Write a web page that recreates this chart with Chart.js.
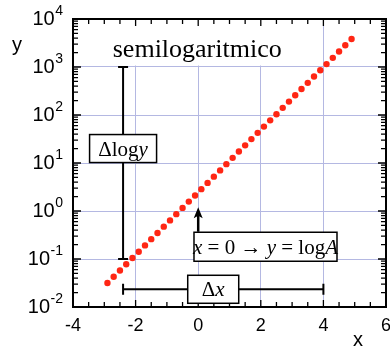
<!DOCTYPE html>
<html lang="en">
<head>
    <meta charset="UTF-8">
    <title>semilogaritmico</title>
    <script src="https://cdn.jsdelivr.net/npm/chart.js"></script>
    <style>
        body { margin: 0; background: #fff; }
        canvas { display: block; }
    </style>
</head>
<body>
    <canvas id="semiLogChart" width="390" height="349"></canvas>

    <script>
        // dots
        const xValues = [-2.9, -2.7, -2.5, -2.3, -2.1, -1.9, -1.7, -1.5, -1.3, -1.1,
                         -0.9, -0.7, -0.5, -0.3, -0.1, 0.1, 0.3, 0.5, 0.7, 0.9,
                         1.1, 1.3, 1.5, 1.7, 1.9, 2.1, 2.3, 2.5, 2.7, 2.9,
                         3.1, 3.3, 3.5, 3.7, 3.9, 4.1, 4.3, 4.5, 4.7, 4.9];
        const yValues = [0.0317, 0.0428, 0.0578, 0.078, 0.105, 0.142, 0.192, 0.259, 0.349, 0.472,
                         0.637, 0.86, 1.16, 1.57, 2.11, 2.85, 3.85, 5.2, 7.02, 9.47,
                         12.8, 17.3, 23.3, 31.5, 42.5, 57.3, 77.4, 104, 141, 190,
                         257, 347, 468, 632, 853, 1150, 1550, 2100, 2830, 3820];
        const yTickExponents = [-2, -1, 0, 1, 2, 3, 4];
        const xTickLabels = [-4, -2, 0, 2, 4, 6];

        const gridColor = '#b4b8e2';
        const sans = '"Liberation Sans", Arial, sans-serif';
        const serif = '"Liberation Serif", "Times New Roman", serif';

        // draws a row of text pieces, some italic, centred on cx
        function drawRich(ctx, parts, cx, baseY, size) {
            let total = 0;
            parts.forEach(p => {
                ctx.font = (p.it ? 'italic ' : '') + size + 'px ' + serif;
                p.w = ctx.measureText(p.t).width;
                total += p.w;
            });
            let x = cx - total / 2;
            ctx.textAlign = 'left';
            ctx.textBaseline = 'alphabetic';
            parts.forEach(p => {
                ctx.font = (p.it ? 'italic ' : '') + size + 'px ' + serif;
                ctx.fillText(p.t, x, baseY);
                x += p.w;
            });
        }

        function boxAt(ctx, cx, cy, w, h) {
            ctx.fillStyle = '#fff';
            ctx.fillRect(cx - w / 2, cy - h / 2, w, h);
            ctx.strokeStyle = '#000';
            ctx.lineWidth = 1.5;
            ctx.strokeRect(cx - w / 2, cy - h / 2, w, h);
            ctx.fillStyle = '#000';
        }

        const decorPlugin = {
            id: 'decor',
            beforeDatasetsDraw(chart) {
                const ctx = chart.ctx;
                const xs = chart.scales.x, ys = chart.scales.y;
                const a = chart.chartArea;
                // white patch behind the title
                ctx.save();
                ctx.fillStyle = '#fff';
                ctx.fillRect(a.left, a.top, xs.getPixelForValue(3.2) - a.left,
                             ys.getPixelForValue(1000) - 1.5 - a.top);
                ctx.restore();
            },
            afterDatasetsDraw(chart) {
                const ctx = chart.ctx;
                const xs = chart.scales.x, ys = chart.scales.y;
                const a = chart.chartArea;
                ctx.save();

                // inward ticks on all four sides
                ctx.strokeStyle = '#000';
                ctx.lineWidth = 1.3;
                ctx.beginPath();
                for (let v = -4; v <= 6; v += 0.5) {
                    const px = xs.getPixelForValue(v);
                    const len = Number.isInteger(v / 2) ? 7 : 5;
                    ctx.moveTo(px, a.bottom); ctx.lineTo(px, a.bottom - len);
                    ctx.moveTo(px, a.top); ctx.lineTo(px, a.top + len);
                }
                for (let d = -2; d <= 3; d++) {
                    for (let m = 1; m <= 9; m++) {
                        const py = ys.getPixelForValue(m * Math.pow(10, d));
                        const len = m === 1 ? 8 : 5;
                        ctx.moveTo(a.left, py); ctx.lineTo(a.left + len, py);
                        ctx.moveTo(a.right, py); ctx.lineTo(a.right - len, py);
                    }
                }
                ctx.stroke();

                // frame
                ctx.lineWidth = 2;
                ctx.strokeRect(a.left, a.top, a.right - a.left, a.bottom - a.top);

                // y tick labels 10^n
                ctx.fillStyle = '#000';
                ctx.textAlign = 'right';
                ctx.textBaseline = 'alphabetic';
                yTickExponents.forEach(e => {
                    const py = ys.getPixelForValue(Math.pow(10, e));
                    ctx.font = '14px ' + sans;
                    const ew = ctx.measureText(String(e)).width;
                    ctx.fillText(String(e), 63, py - 4);
                    ctx.font = '20px ' + sans;
                    ctx.fillText('10', 63 - ew - 0.5, py + 5.5);
                });

                // x tick labels
                ctx.font = '18px ' + sans;
                ctx.textAlign = 'center';
                xTickLabels.forEach(v => {
                    ctx.fillText(String(v), xs.getPixelForValue(v), 331);
                });

                // axis titles
                ctx.font = '20px ' + sans;
                ctx.fillText('y', 17, 51);
                ctx.fillText('x', 358, 346);

                // title
                ctx.font = '26px ' + serif;
                ctx.textAlign = 'left';
                ctx.fillText('semilogaritmico', xs.getPixelForValue(-2.73), ys.getPixelForValue(1650));

                // delta log y bar
                const bx = xs.getPixelForValue(-2.4);
                const yTop = ys.getPixelForValue(1000), yBot = ys.getPixelForValue(0.1);
                ctx.lineWidth = 2;
                ctx.beginPath();
                ctx.moveTo(bx, yTop); ctx.lineTo(bx, yBot);
                ctx.moveTo(bx - 5, yTop); ctx.lineTo(bx + 5, yTop);
                ctx.moveTo(bx - 5, yBot); ctx.lineTo(bx + 5, yBot);
                ctx.stroke();
                const lyC = ys.getPixelForValue(20);
                boxAt(ctx, bx, lyC, 67, 28);
                drawRich(ctx, [{ t: '\u0394log' }, { t: 'y', it: true }], bx, lyC + 7, 21);

                // delta x bar
                const by = ys.getPixelForValue(0.0234);
                const xL = xs.getPixelForValue(-2.4), xR = xs.getPixelForValue(4);
                ctx.lineWidth = 2;
                ctx.beginPath();
                ctx.moveTo(xL, by); ctx.lineTo(xR, by);
                ctx.moveTo(xL, by - 5.5); ctx.lineTo(xL, by + 5.5);
                ctx.moveTo(xR, by - 5.5); ctx.lineTo(xR, by + 5.5);
                ctx.stroke();
                const dxC = xs.getPixelForValue(0.48);
                boxAt(ctx, dxC, by, 51, 28);
                drawRich(ctx, [{ t: '\u0394' }, { t: 'x', it: true }], dxC, by + 7, 21);

                // arrow at x = 0
                const ax = xs.getPixelForValue(0);
                const tipY = ys.getPixelForValue(1.2);
                const baseY = ys.getPixelForValue(0.37);
                ctx.lineWidth = 2.5;
                ctx.beginPath();
                ctx.moveTo(ax, baseY); ctx.lineTo(ax, tipY + 8);
                ctx.stroke();
                ctx.beginPath();
                ctx.moveTo(ax, tipY);
                ctx.lineTo(ax - 4.5, tipY + 11);
                ctx.lineTo(ax, tipY + 8.5);
                ctx.lineTo(ax + 4.5, tipY + 11);
                ctx.closePath();
                ctx.fill();

                // x = 0 -> y = logA box
                const bcx = xs.getPixelForValue(2.15), bcy = ys.getPixelForValue(0.18);
                boxAt(ctx, bcx, bcy, 143, 29);
                drawRich(ctx, [
                    { t: 'x', it: true }, { t: ' = 0 \u2192 ' },
                    { t: 'y', it: true }, { t: ' = log' }, { t: 'A', it: true }
                ], bcx, bcy + 7, 21);

                ctx.restore();
            }
        };

        const ctx = document.getElementById('semiLogChart').getContext('2d');
        new Chart(ctx, {
            type: 'scatter',
            data: {
                datasets: [{
                    data: xValues.map((x, i) => ({ x: x, y: yValues[i] })),
                    backgroundColor: 'rgb(255, 38, 20)',
                    borderWidth: 0,
                    pointRadius: 3.2
                }]
            },
            options: {
                responsive: false,
                animation: false,
                devicePixelRatio: 1,
                layout: { padding: { left: 73, right: 4, top: 19, bottom: 42 } },
                plugins: { legend: { display: false }, tooltip: { enabled: false } },
                scales: {
                    x: {
                        type: 'linear',
                        min: -4, max: 6,
                        ticks: { display: false, stepSize: 2 },
                        grid: { color: gridColor, lineWidth: 1, drawTicks: false },
                        border: { display: false }
                    },
                    y: {
                        type: 'logarithmic',
                        min: 0.01, max: 10000,
                        afterBuildTicks: scale => {
                            scale.ticks = yTickExponents.map(e => ({ value: Math.pow(10, e) }));
                        },
                        ticks: { display: false },
                        grid: { color: gridColor, lineWidth: 1, drawTicks: false },
                        border: { display: false }
                    }
                }
            },
            plugins: [decorPlugin]
        });
    </script>
</body>
</html>
